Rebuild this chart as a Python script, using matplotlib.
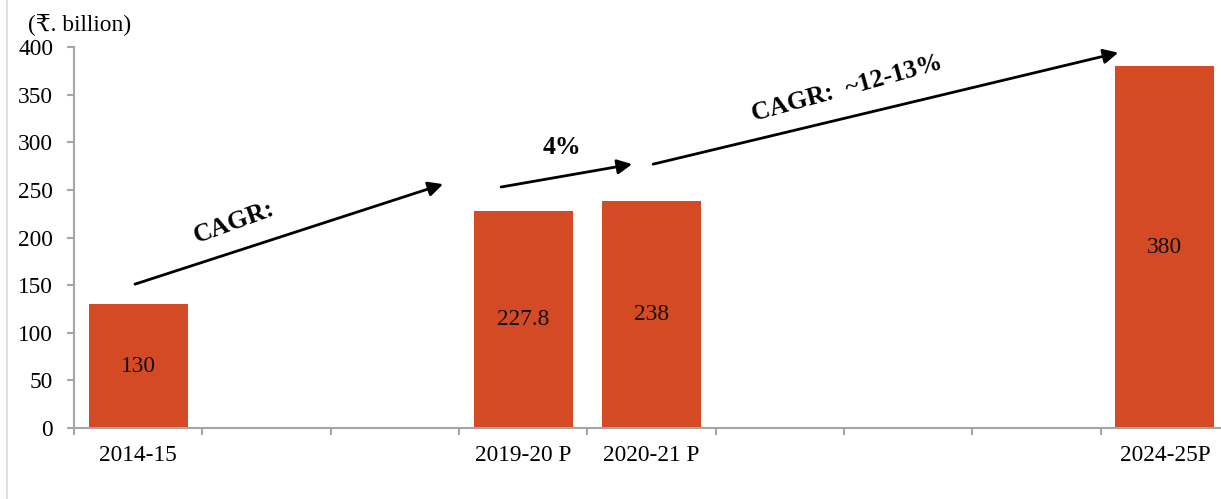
import matplotlib
matplotlib.use('Agg')
import matplotlib.pyplot as plt
from matplotlib.lines import Line2D

# data
categories = ['2014-15', '', '', '2019-20 P', '2020-21 P', '', '', '', '2024-25P']
values = [130, None, None, 227.8, 238, None, None, None, 380]
value_labels = ['130', '', '', '227.8', '238', '', '', '', '380']
y_ticks = [0, 50, 100, 150, 200, 250, 300, 350, 400]

# growth arrows: (start x, start y, end x, end y)
arrows = [
    (-0.025, 151, 2.376, 256),
    (2.828, 253, 3.849, 277),
    (4.013, 277, 7.637, 394),
]
arrow_texts = [
    ('CAGR:', 0.75, 216, 20),
    ('4%', 3.30, 295, 0),
    ('CAGR:  ~12-13%', 5.52, 357, 15.5),
]

bar_color = '#D34A24'
axis_color = '#A6A6A6'
serif = ['Liberation Serif', 'DejaVu Serif', 'DejaVu Sans']

fig = plt.figure(figsize=(12.21, 4.99), dpi=100)
# the plot area runs slightly past the right edge, as in the source image
ax = fig.add_axes([74/1221, 71/499, 1155/1221, (428-47)/499])

xs = [i for i, v in enumerate(values) if v is not None]
hs = [v for v in values if v is not None]
ax.bar(xs, hs, width=0.77, color=bar_color, zorder=2)

for i, v in enumerate(values):
    if v is not None:
        ax.text(i, v / 2, value_labels[i], ha='center', va='center',
                fontsize=16.8, family=serif, color='#111111')

ax.set_xlim(-0.5, len(categories) - 0.5)
ax.set_ylim(0, 400)
ax.set_yticks(y_ticks)
ax.set_yticklabels([str(t) for t in y_ticks], family=serif, fontsize=16.8)

# category labels centred in slots, tick marks at slot borders
ax.set_xticks([i - 0.5 for i in range(len(categories))])
ax.set_xticklabels([])
ax.set_xticks(range(len(categories)), minor=True)
ax.set_xticklabels(categories, minor=True, family=serif, fontsize=16.8)
ax.tick_params(axis='x', which='minor', length=0, pad=12)
ax.tick_params(axis='x', which='major', length=5, width=1.5, color=axis_color)
ax.tick_params(axis='y', length=5, width=1.5, color=axis_color, pad=10)

for s in ['top', 'right']:
    ax.spines[s].set_visible(False)
for s in ['left', 'bottom']:
    ax.spines[s].set_color(axis_color)
    ax.spines[s].set_linewidth(1.5)

for x0, y0, x1, y1 in arrows:
    ax.annotate('', xy=(x1, y1), xytext=(x0, y0),
                arrowprops=dict(arrowstyle='-|>', color='black', lw=2,
                                mutation_scale=22, shrinkA=0, shrinkB=0))

for t, x, y, rot in arrow_texts:
    ax.text(x, y, t, ha='center', va='center', rotation=rot,
            fontsize=18.5, fontweight='bold', family=serif)

fig.text(28/1221, 1 - 25/499, '(₹. billion)', ha='left', va='center',
         fontsize=16.8, family=serif)

fig.add_artist(Line2D([7/1221, 7/1221], [0, 1], color='#D9D9D9', lw=1.2,
                      transform=fig.transFigure))

fig.savefig('out.png', dpi=100)
